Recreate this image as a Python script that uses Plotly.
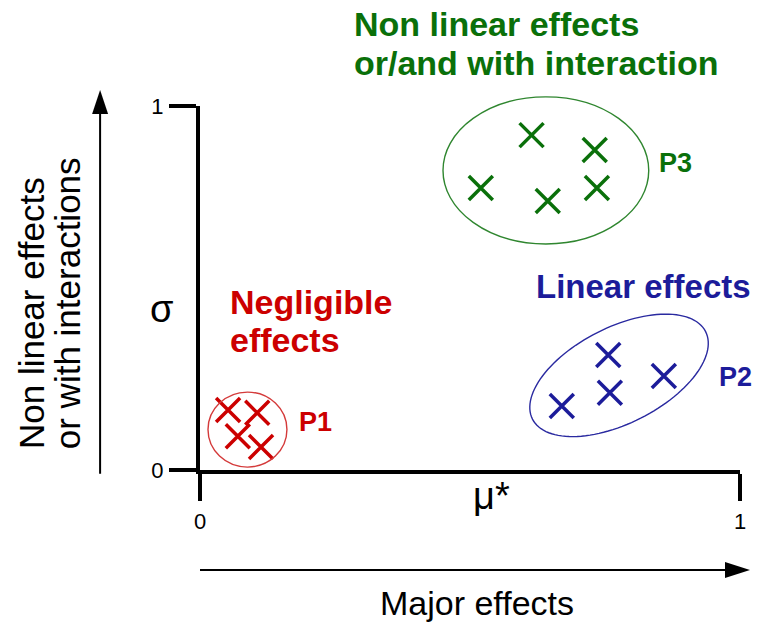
import numpy as np
import plotly.graph_objects as go

# ---------------- data ----------------
p1_x = [0.052, 0.106, 0.070, 0.113]
p1_y = [0.165, 0.157, 0.093, 0.063]
p2_x = [0.670, 0.756, 0.759, 0.859]
p2_y = [0.176, 0.316, 0.212, 0.258]
p3_x = [0.614, 0.731, 0.520, 0.644, 0.735]
p3_y = [0.920, 0.879, 0.775, 0.739, 0.775]
tick_vals = [0, 1]
tick_text = ["0", "1"]
group_labels = ["P1", "P2", "P3"]

RED = "#cc0000"
BLUE = "#1c1c9a"
GREEN = "#0a700a"
FONT = "Liberation Sans"

# page body has an 8px margin, so the figure is a little smaller than the window
W, H = 755, 618
ML, MR, MT, MB = 192, 23, 98, 156
PW, PH = W - ML - MR, H - MT - MB  # pixels per data unit

fig = go.Figure()
for xs, ys, col in [(p1_x, p1_y, RED), (p2_x, p2_y, BLUE), (p3_x, p3_y, GREEN)]:
    fig.add_trace(go.Scatter(
        x=xs, y=ys, mode="markers", showlegend=False, hoverinfo="skip",
        marker=dict(symbol="x-thin", size=24, line=dict(width=3.5, color=col))))

shapes = []
# P1 and P3 ellipses (axis aligned)
shapes.append(dict(type="circle", xref="paper", yref="paper",
                   x0=0.0148, x1=0.161, y0=0.008, y1=0.214,
                   line=dict(color="#d43a3a", width=1.4)))
shapes.append(dict(type="circle", xref="paper", yref="paper",
                   x0=0.450, x1=0.831, y0=0.621, y1=1.025,
                   line=dict(color="#2f862f", width=1.4)))
# P2 rotated ellipse
cx, cy, a, b, th = 0.776, 0.260, 97.0, 48.0, np.deg2rad(26.8)
t = np.linspace(0, 2 * np.pi, 121)
ex = cx + (a * np.cos(t) * np.cos(th) - b * np.sin(t) * np.sin(th)) / PW
ey = cy + (a * np.cos(t) * np.sin(th) + b * np.sin(t) * np.cos(th)) / PH
path = "M" + " L".join(f"{x:.5f},{y:.5f}" for x, y in zip(ex, ey)) + " Z"
shapes.append(dict(type="path", xref="paper", yref="paper", path=path,
                   line=dict(color="#2a2aa0", width=1.4)))

# arrows
vx, vtip, vbot = -0.185, 1.044, -0.01
hl_v = 24 / PH
hw_v = 8 / PW
shapes.append(dict(type="line", xref="paper", yref="paper",
                   x0=vx, x1=vx, y0=vbot, y1=vtip - hl_v + 0.005,
                   line=dict(color="black", width=2)))
shapes.append(dict(type="path", xref="paper", yref="paper",
                   path=f"M{vx - hw_v},{vtip - hl_v} L{vx + hw_v},{vtip - hl_v} L{vx},{vtip} Z",
                   fillcolor="black", line=dict(color="black", width=0)))
hy, htip, hleft = -0.275, 1.0185, 0.0
hl_h = 25 / PW
hw_h = 8 / PH
shapes.append(dict(type="line", xref="paper", yref="paper",
                   x0=hleft, x1=htip - hl_h + 0.005, y0=hy, y1=hy,
                   line=dict(color="black", width=2)))
shapes.append(dict(type="path", xref="paper", yref="paper",
                   path=f"M{htip - hl_h},{hy - hw_h} L{htip - hl_h},{hy + hw_h} L{htip},{hy} Z",
                   fillcolor="black", line=dict(color="black", width=0)))

def ann(text, x, y, size, color="black", bold=False, xanchor="center",
        yanchor="middle", angle=0):
    if bold:
        text = f"<b>{text}</b>"
    return dict(text=text, x=x, y=y, xref="paper", yref="paper",
                showarrow=False, xanchor=xanchor, yanchor=yanchor,
                textangle=angle, borderpad=0,
                font=dict(family=FONT, size=size, color=color))

annotations = [
    ann("Non linear effects", 0.283, 1.226, 34, GREEN, True, "left"),
    ann("or/and with interaction", 0.283, 1.118, 34, GREEN, True, "left"),
    ann("Negligible", 0.054, 0.4615, 34, RED, True, "left"),
    ann("effects", 0.054, 0.357, 34, RED, True, "left"),
    ann("Linear effects", 0.621, 0.505, 33, BLUE, True, "left"),
    ann(group_labels[0], 0.213, 0.132, 27, RED, True),
    ann(group_labels[1], 0.991, 0.255, 27, BLUE, True),
    ann(group_labels[2], 0.881, 0.843, 27, GREEN, True),
    ann("σ", -0.0722, 0.442, 38),
    ann("μ*", 0.539, -0.072, 38),
    ann("Major effects", 0.513, -0.365, 34),
    ann("Non linear effects", -0.311, 0.055, 35, yanchor="bottom", angle=-90),
    ann("or with interactions", -0.244, 0.055, 35, yanchor="bottom", angle=-90),
]

axis_common = dict(range=[0, 1], showgrid=False, zeroline=False, showline=True,
                   linecolor="black", linewidth=4, ticks="outside", ticklen=27,
                   tickwidth=4, tickcolor="black", tickvals=tick_vals,
                   ticktext=tick_text,
                   tickfont=dict(family=FONT, size=22, color="black"),
                   fixedrange=True)

fig.update_layout(
    width=W, height=H, autosize=False,
    margin=dict(l=ML, r=MR, t=MT, b=MB, pad=0),
    paper_bgcolor="white", plot_bgcolor="white",
    xaxis=dict(axis_common, ticklabelstandoff=2),
    yaxis=dict(axis_common, ticklabelstandoff=1),
    shapes=shapes, annotations=annotations, showlegend=False,
)
fig.write_html("out.html")
